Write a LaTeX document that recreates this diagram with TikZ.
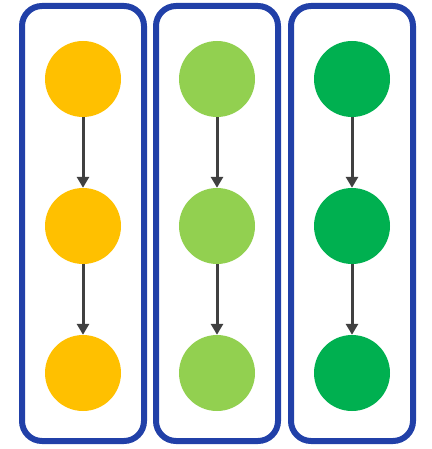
\documentclass[tikz,border=0pt]{standalone}
\usetikzlibrary{arrows.meta}
\definecolor{frameblue}{HTML}{2140A8}
\definecolor{dotyellow}{HTML}{FFC000}
\definecolor{dotlime}{HTML}{92D050}
\definecolor{dotgreen}{HTML}{00B050}
\definecolor{linkgray}{HTML}{404040}
\begin{document}
\begin{tikzpicture}[x=1pt,y=-1pt,
  column/.style={draw=frameblue,line width=6pt,rounded corners=20pt},
  dot/.style={circle,minimum size=76pt,inner sep=0pt},
  link/.style={draw=linkgray,line width=3pt,-{Triangle[width=12pt,length=11pt]}}]
\useasboundingbox (0,0) rectangle (431,449);
% three framed columns
\draw[column] (22,6) rectangle (144,441);
\draw[column] (156,6) rectangle (278,441);
\draw[column] (291,6) rectangle (413,441);
% nodes in each column
\foreach \c/\x/\col in {a/83/dotyellow,b/217/dotlime,c/352/dotgreen}{
  \node[dot,fill=\col] (\c1) at (\x,79) {};
  \node[dot,fill=\col] (\c2) at (\x,226) {};
  \node[dot,fill=\col] (\c3) at (\x,373) {};
  \draw[link] (\c1) -- (\c2);
  \draw[link] (\c2) -- (\c3);
}
\end{tikzpicture}
\end{document}
